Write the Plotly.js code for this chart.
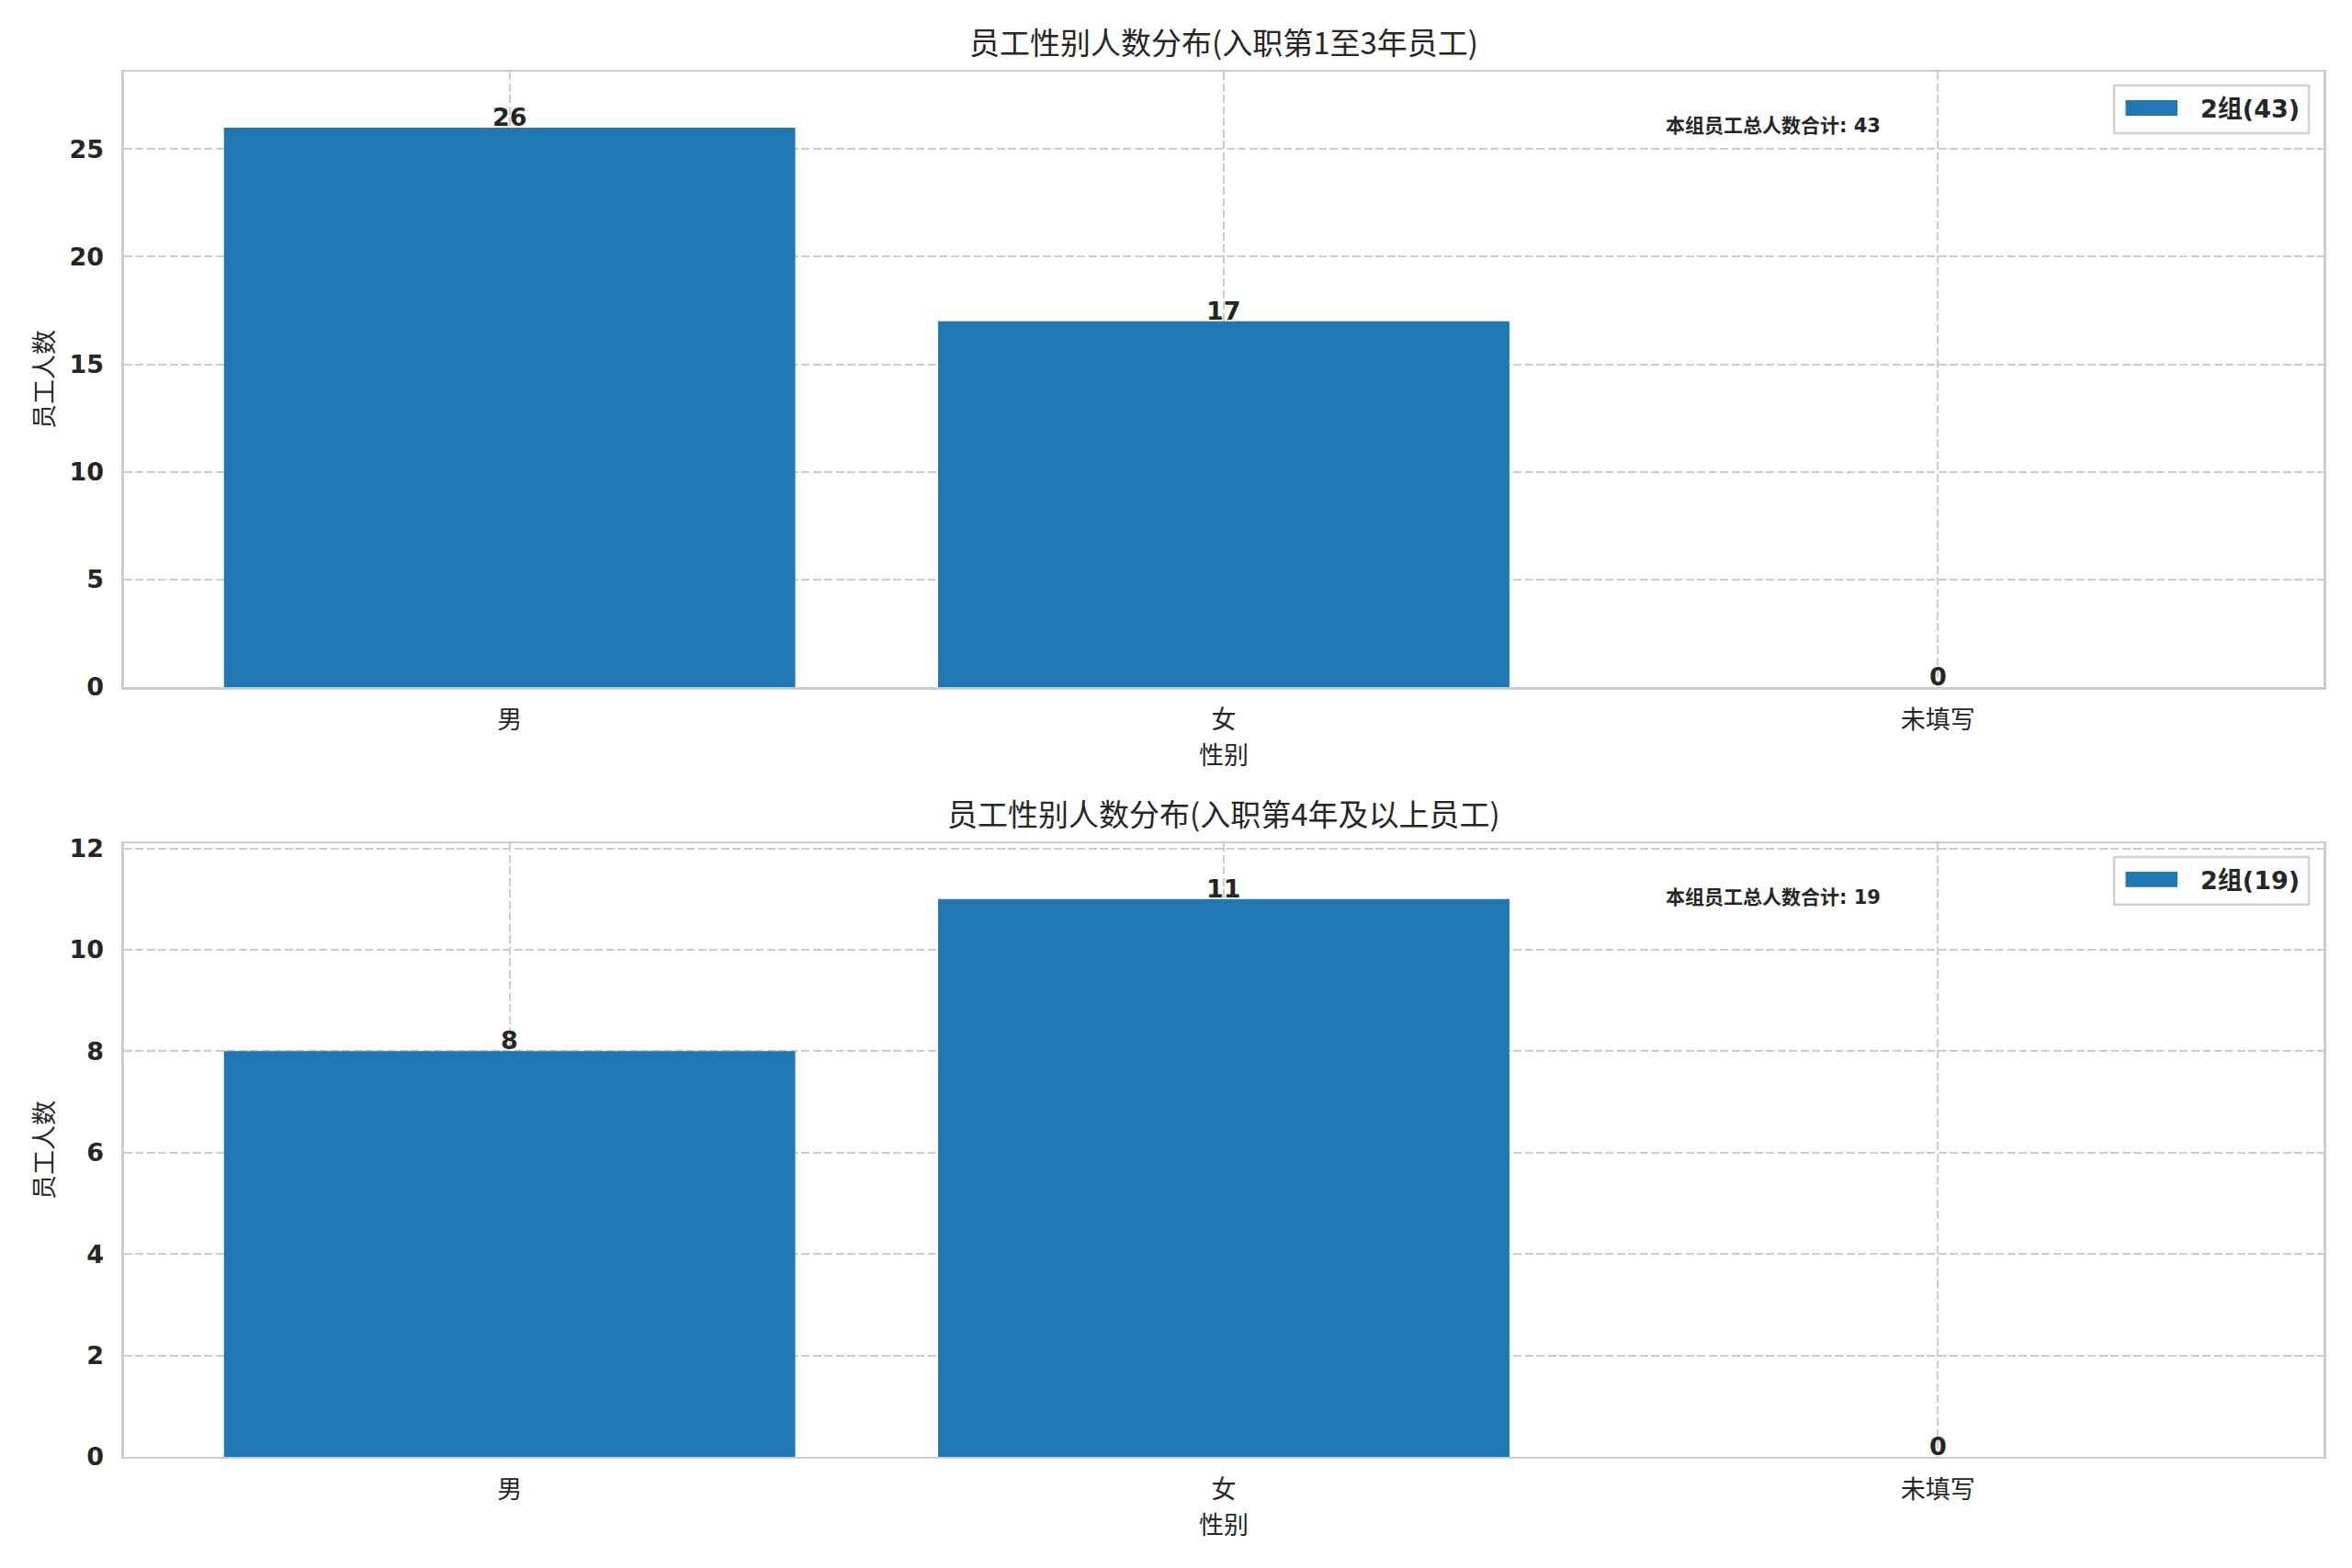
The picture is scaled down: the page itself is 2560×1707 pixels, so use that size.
<!DOCTYPE html>
<html>
<head>
<meta charset="utf-8">
<script src="https://cdn.plot.ly/plotly-3.0.1.min.js"></script>
<style>
  body { margin: 0; background: #fff; }
  #chart { width: 2560px; height: 1707px; }
</style>
</head>
<body>
<div id="chart"></div>
<script>
// data
var categories = ['男', '女', '未填写']
var countsEarly = [26, 17, 0]
var countsLate = [8, 11, 0]
var titleEarly = '员工性别人数分布(入职第1至3年员工)'
var titleLate = '员工性别人数分布(入职第4年及以上员工)'
var seriesEarly = '2组(43)'
var seriesLate = '2组(19)'
var totalLabel = '本组员工总人数合计'
var xLabel = '性别'
var yLabel = '员工人数'

var barColor = '#1f77b4'
var cjk = '"Noto Sans CJK SC", "DejaVu Sans", sans-serif'
var numFont = '"DejaVu Sans", "Noto Sans CJK SC", sans-serif'
var txtColor = '#262626'
var gridColor = '#cccccc'

function sum(a) { return a.reduce(function (s, v) { return s + v }, 0) }

var traces = [
    {
        x: categories, y: countsEarly, type: 'bar', name: seriesEarly,
        marker: {color: barColor}, width: 0.8, xaxis: 'x', yaxis: 'y',
        hoverinfo: 'x+y', showlegend: false,
    },
    {
        x: categories, y: countsLate, type: 'bar', name: seriesLate,
        marker: {color: barColor}, width: 0.8, xaxis: 'x2', yaxis: 'y2',
        hoverinfo: 'x+y', showlegend: false,
    },
]

var annotations = []
var shapes = []

// value labels on bars
function addBarLabels(vals, xref, yref) {
    for (var i = 0; i < vals.length; i++) {
        annotations.push({
            x: categories[i], y: vals[i], xref: xref, yref: yref,
            text: '<b>' + vals[i] + '</b>', showarrow: false,
            yanchor: 'bottom', yshift: -6,
            font: {family: numFont, size: 27, color: txtColor},
        })
    }
}
addBarLabels(countsEarly, 'x', 'y')
addBarLabels(countsLate, 'x2', 'y2')

// titles, totals and a matplotlib-like legend box per panel
var panels = [
    {title: titleEarly, name: seriesEarly, vals: countsEarly, xref: 'x domain', yref: 'y domain'},
    {title: titleLate, name: seriesLate, vals: countsLate, xref: 'x2 domain', yref: 'y2 domain'},
]
panels.forEach(function (p) {
    annotations.push({
        xref: p.xref, yref: p.yref, x: 0.5, y: 1, yshift: 7,
        xanchor: 'center', yanchor: 'bottom', showarrow: false,
        text: p.title, font: {family: cjk, size: 33, color: txtColor},
    })
    annotations.push({
        xref: p.xref, yref: p.yref, x: 0.7, y: 0.912,
        xanchor: 'left', yanchor: 'middle', showarrow: false,
        text: '<b>' + totalLabel + ': ' + sum(p.vals) + '</b>',
        font: {family: numFont, size: 21, color: txtColor},
    })
    // legend frame
    shapes.push({
        type: 'rect', xref: p.xref, yref: p.yref,
        x0: 0.9048, x1: 0.9933, y0: 0.900, y1: 0.9776,
        line: {color: '#d0d0d0', width: 2.5}, fillcolor: 'rgba(255,255,255,0.85)',
    })
    // legend swatch
    shapes.push({
        type: 'rect', xref: p.xref, yref: p.yref,
        x0: 0.910, x1: 0.9336, y0: 0.9284, y1: 0.9537,
        line: {width: 0}, fillcolor: barColor,
    })
    annotations.push({
        xref: p.xref, yref: p.yref, x: 0.943, y: 0.940,
        xanchor: 'left', yanchor: 'middle', showarrow: false,
        text: '<b>' + p.name + '</b>',
        font: {family: numFont, size: 27, color: txtColor},
    })
})

function yAxis(domain, range, dtick) {
    return {
        domain: domain, range: range, dtick: dtick,
        showgrid: true, gridcolor: gridColor, griddash: '9px,3.5px', gridwidth: 2,
        zeroline: false, showline: true, mirror: true,
        linecolor: gridColor, linewidth: 2.5,
        ticks: '', ticklabelstandoff: 14,
        tickfont: {family: numFont, size: 27, color: txtColor, weight: 'bold'},
        title: {text: yLabel, font: {family: cjk, size: 27, color: txtColor}, standoff: 9},
        fixedrange: true,
    }
}
function xAxis(domain, anchor) {
    return {
        domain: domain, anchor: anchor, range: [-0.54, 2.54],
        type: 'category',
        showgrid: true, gridcolor: gridColor, griddash: '9px,3.5px', gridwidth: 2,
        zeroline: false, showline: true, mirror: true,
        linecolor: gridColor, linewidth: 2.5,
        ticks: '', ticklabelstandoff: 10,
        tickfont: {family: cjk, size: 27, color: txtColor},
        title: {text: xLabel, font: {family: cjk, size: 27, color: txtColor}, standoff: 12},
        fixedrange: true,
    }
}

var layout = {
    width: 2560, height: 1707,
    paper_bgcolor: '#ffffff', plot_bgcolor: '#ffffff',
    margin: {l: 0, r: 0, t: 0, b: 0},
    showlegend: false,
    bargap: 0.2,
    xaxis: xAxis([0.0527, 0.9879], 'y'),
    yaxis: Object.assign(yAxis([0.5618, 0.9543], [0, 28.6], 5), {anchor: 'x'}),
    xaxis2: xAxis([0.0527, 0.9879], 'y2'),
    yaxis2: Object.assign(yAxis([0.0709, 0.4622], [0, 12.1], 2), {anchor: 'x2'}),
    annotations: annotations,
    shapes: shapes,
}

Plotly.newPlot('chart', traces, layout, {displayModeBar: false, staticPlot: true})
</script>
</body>
</html>
